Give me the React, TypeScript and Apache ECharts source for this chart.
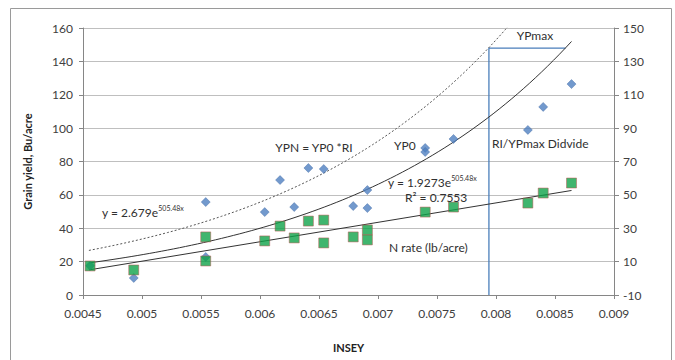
import React, { useEffect, useRef } from "react";
import * as echarts from "echarts";

// Axis scales
const xMin = 0.0045;
const xMax = 0.009;
const xStep = 0.0005;
const leftMin = 0;
const leftMax = 160;
const leftStep = 20;
const rightMin = -10;
const rightMax = 150;
const rightStep = 20;

// YP0 measured (Grain yield, left axis)
const yp0X = [0.00456, 0.00493, 0.00554, 0.00554, 0.00604, 0.00617, 0.00629, 0.00641, 0.00654, 0.00679, 0.00691, 0.00691, 0.0074, 0.0074, 0.00764, 0.00827, 0.0084, 0.00864];
const yp0Y = [17.5, 10.2, 55.7, 22.8, 49.7, 68.9, 52.7, 76.1, 75.5, 53.3, 62.9, 52.1, 88.1, 85.7, 93.5, 98.9, 112.7, 126.4];

// N rate (lb/acre), right axis
const nX = [0.00456, 0.00493, 0.00554, 0.00554, 0.00604, 0.00617, 0.00629, 0.00641, 0.00654, 0.00654, 0.00679, 0.00691, 0.00691, 0.0074, 0.00764, 0.00827, 0.0084, 0.00864];
const nY = [7.4, 5.0, 24.8, 10.4, 22.4, 31.3, 24.2, 34.3, 34.9, 21.2, 24.8, 29.0, 23.0, 39.7, 42.7, 45.1, 51.1, 57.1];

// Trendline equations printed on the chart
const yp0A = 1.9273;
const ypnA = 2.679;
const expB = 505.48;
const trendStart = 0.00455;
const trendEnd = 0.00864;

// YPmax bracket (left axis)
const bracketX = [0.00794, 0.00794, 0.00859];
const bracketY = [0, 148, 148];

const FONT = "Lato, 'Open Sans', sans-serif";

const annotations = [
  { text: "YPmax", x: 0.00833, y: 155.7, align: "center" },
  { text: "YPN = YP0 *RI", x: 0.00613, y: 88.6, align: "left" },
  { text: "YP0", x: 0.007136, y: 89.8, align: "left" },
  { text: "RI/YPmax Didvide", x: 0.007966, y: 91, align: "left" },
  { text: "y = 1.9273e{sup|505.48x}", x: 0.007085, y: 67.7, align: "left" },
  { text: "R² = 0.7553", x: 0.007229, y: 58.7, align: "left" },
  { text: "y = 2.679e{sup|505.48x}", x: 0.004661, y: 49.7, align: "left" },
  { text: "N rate (lb/acre)", x: 0.007093, y: 28.7, align: "left" },
];

function expCurve(a: number): number[][] {
  const pts: number[][] = [];
  const n = 80;
  for (let i = 0; i <= n; i++) {
    const x = trendStart + ((trendEnd - trendStart) * i) / n;
    pts.push([x, a * Math.exp(expB * x)]);
  }
  return pts;
}

function linearFit(xs: number[], ys: number[]): number[][] {
  const n = xs.length;
  const mx = xs.reduce((s, v) => s + v, 0) / n;
  const my = ys.reduce((s, v) => s + v, 0) / n;
  let sxy = 0;
  let sxx = 0;
  for (let i = 0; i < n; i++) {
    sxy += (xs[i] - mx) * (ys[i] - my);
    sxx += (xs[i] - mx) * (xs[i] - mx);
  }
  const b = sxy / sxx;
  const a = my - b * mx;
  return [
    [trendStart, a + b * trendStart],
    [trendEnd, a + b * trendEnd],
  ];
}

export default function App() {
  const ref = useRef<HTMLDivElement>(null);
  useEffect(() => {
    if (!ref.current) return;
    const chart = echarts.init(ref.current, undefined, { renderer: "svg" });
    const axisLabel = { color: "#404040", fontSize: 12, fontFamily: FONT };
    const option: any = {
      animation: false,
      backgroundColor: "#ffffff",
      grid: { left: 83, right: 61, top: 28, bottom: 65, containLabel: false },
      xAxis: {
        type: "value",
        min: xMin,
        max: xMax,
        interval: xStep,
        name: "INSEY",
        nameLocation: "middle",
        nameGap: 47,
        nameTextStyle: { fontWeight: "bold", fontSize: 11, color: "#222", fontFamily: FONT },
        axisLine: { show: true, lineStyle: { color: "#868686", width: 1 } },
        axisTick: { show: true, length: 4, lineStyle: { color: "#868686" } },
        splitLine: { show: false },
        axisLabel: {
          ...axisLabel,
          margin: 12,
          formatter: (v: number) => String(Number(v.toFixed(4))),
        },
      },
      yAxis: [
        {
          type: "value",
          min: leftMin,
          max: leftMax,
          interval: leftStep,
          position: "left",
          name: "Grain yield, Bu/acre",
          nameLocation: "middle",
          nameGap: 50,
          nameRotate: 90,
          nameTextStyle: { fontWeight: "bold", fontSize: 11, color: "#222", fontFamily: FONT },
          axisLine: { show: true, lineStyle: { color: "#868686", width: 1 } },
          axisTick: { show: true, length: 4, lineStyle: { color: "#868686" } },
          splitLine: { show: true, lineStyle: { color: "#bfbfbf", width: 1 } },
          axisLabel: { ...axisLabel, margin: 10 },
        },
        {
          type: "value",
          min: rightMin,
          max: rightMax,
          interval: rightStep,
          position: "right",
          axisLine: { show: true, lineStyle: { color: "#868686", width: 1 } },
          axisTick: { show: true, length: 5, lineStyle: { color: "#868686" } },
          splitLine: { show: false },
          axisLabel: { ...axisLabel, margin: 9 },
        },
      ],
      series: [
        {
          name: "YPmax bracket",
          type: "line",
          yAxisIndex: 0,
          data: bracketX.map((x, i) => [x, bracketY[i]]),
          symbol: "none",
          lineStyle: { color: "#4a7ebb", width: 1.3 },
          z: 1,
        },
        {
          name: "YPN trend",
          type: "line",
          yAxisIndex: 0,
          data: expCurve(ypnA),
          symbol: "none",
          smooth: false,
          clip: true,
          lineStyle: { color: "#555", width: 1, type: [2, 2] },
          z: 2,
        },
        {
          name: "YP0 trend",
          type: "line",
          yAxisIndex: 0,
          data: expCurve(yp0A),
          symbol: "none",
          clip: true,
          lineStyle: { color: "#333", width: 1 },
          z: 2,
        },
        {
          name: "N rate trend",
          type: "line",
          yAxisIndex: 1,
          data: linearFit(nX, nY),
          symbol: "none",
          lineStyle: { color: "#333", width: 1 },
          z: 2,
        },
        {
          name: "YP0",
          type: "scatter",
          yAxisIndex: 0,
          data: yp0X.map((x, i) => [x, yp0Y[i]]),
          symbol: "diamond",
          symbolSize: 9,
          itemStyle: { color: "#4f7fc0", borderColor: "#3a64a0", borderWidth: 0.5 },
          z: 3,
        },
        {
          name: "N rate",
          type: "scatter",
          yAxisIndex: 1,
          data: nX.map((x, i) => [x, nY[i]]),
          symbol: "rect",
          symbolSize: 10,
          itemStyle: { color: "#10a34a", borderColor: "#c0504d", borderWidth: 0.6 },
          z: 4,
        },
      ],
    };
    chart.setOption(option);
    const graphics: any[] = [
      {
        type: "rect",
        shape: { x: 10.5, y: 8.5, width: 661, height: 365 },
        style: { fill: "none", stroke: "#9a9a9a", lineWidth: 1 },
        silent: true,
      },
    ];
    annotations.forEach((a) => {
      const p = chart.convertToPixel({ xAxisIndex: 0, yAxisIndex: 0 }, [a.x, a.y]) as number[];
      graphics.push({
        type: "text",
        x: p[0],
        y: p[1],
        z: 10,
        style: {
          text: a.text,
          fill: "#303030",
          fontSize: 12,
          fontFamily: FONT,
          align: a.align,
          verticalAlign: "middle",
          rich: {
            sup: { fontSize: 7, fontFamily: FONT, fill: "#303030", padding: [0, 0, 8, 0] },
          },
        },
      });
    });
    chart.setOption({ graphic: graphics });
    return () => chart.dispose();
  }, []);
  return (
    <div
      ref={ref}
      style={{ position: "fixed", left: 0, top: 0, width: 675, height: 360, background: "#fff" }}
    />
  );
}
